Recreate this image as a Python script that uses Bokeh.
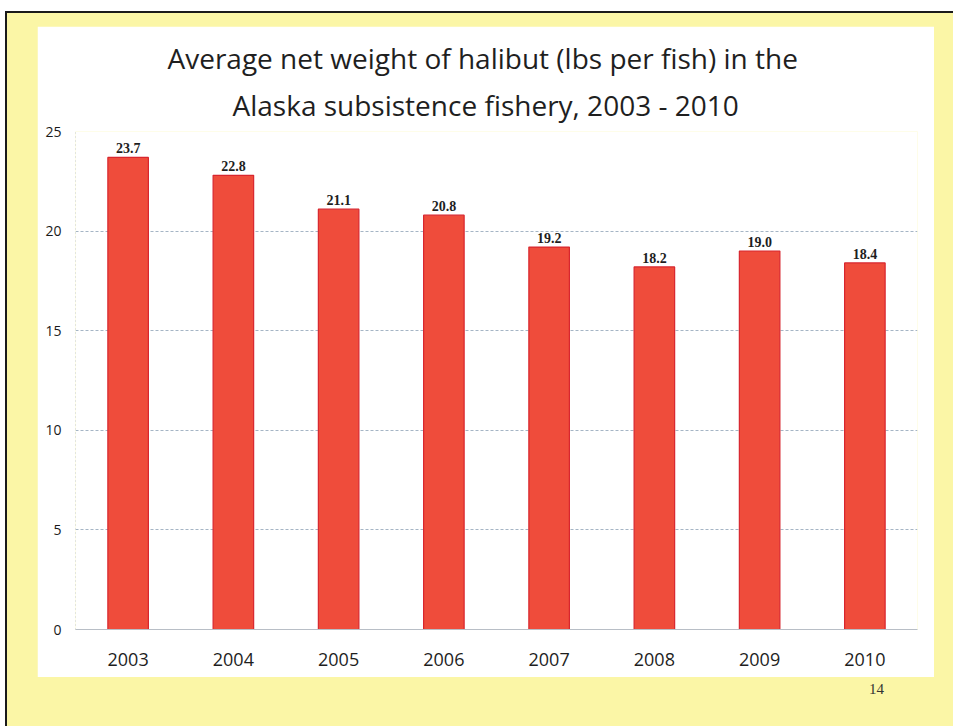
from bokeh.plotting import figure
from bokeh.models import Range1d, Div, FixedTicker, Title
from bokeh.layouts import column
from bokeh.core.properties import value
from bokeh.embed import file_html
from bokeh.resources import INLINE

# Average net weight of halibut (lbs per fish), Alaska subsistence fishery
years = ["2003", "2004", "2005", "2006", "2007", "2008", "2009", "2010"]
weights = [23.7, 22.8, 21.1, 20.8, 19.2, 18.2, 19.0, 18.4]
weight_labels = ["23.7", "22.8", "21.1", "20.8", "19.2", "18.2", "19.0", "18.4"]
y_ticks = [0, 5, 10, 15, 20, 25]

title_lines = ["Average net weight of halibut (lbs per fish) in the",
               "Alaska subsistence fishery, 2003 - 2010"]
title_indents = [92, 157]
page_number = "14"

YELLOW = "#fbf6a6"

p = figure(
    x_range=years,
    y_range=Range1d(0, 25),
    width=897, height=651,
    output_backend="svg",
    toolbar_location=None,
    min_border_left=38, min_border_right=17,
    min_border_top=105, min_border_bottom=48,
    background_fill_color="white",
    border_fill_color="white",
)
p.outline_line_color = None

# two-line title, the lower line added first so it sits next to the frame
for i, (line, indent) in enumerate(zip(reversed(title_lines), reversed(title_indents))):
    p.add_layout(Title(text=line, align="left", offset=indent,
                       text_font="Open Sans", text_font_size="28px",
                       text_font_style="normal", text_color="#1f1f1f",
                       standoff=15 if i == 0 else 0), "above")

p.vbar(x=years, top=weights, width=0.385,
       fill_color="#ef4c3b", line_color="#d8262e", line_width=1.2)

p.text(x=years, y=weights, text=weight_labels,
       y_offset=-9, text_align="center", text_baseline="alphabetic",
       text_font=value("Liberation Serif"), text_font_style="bold",
       text_font_size="14px", text_color="#1e1e1e")

# axes
p.yaxis.ticker = FixedTicker(ticks=y_ticks)
p.yaxis.major_tick_line_color = None
p.yaxis.minor_tick_line_color = None
p.yaxis.axis_line_color = "#c8ccd2"
p.yaxis.axis_line_dash = "1 3"
p.yaxis.major_label_text_font = "Open Sans"
p.yaxis.major_label_text_font_size = "14px"
p.yaxis.major_label_text_font_style = "normal"
p.yaxis.major_label_text_color = "#1a1a1a"
p.yaxis.major_label_standoff = 8

p.xaxis.major_tick_line_color = None
p.xaxis.axis_line_color = "#b8bec6"
p.xaxis.major_label_text_font = "Open Sans"
p.xaxis.major_label_text_font_size = "18px"
p.xaxis.major_label_text_color = "#1e1e1e"
p.xaxis.major_label_standoff = 17

p.xgrid.grid_line_color = None
p.ygrid.ticker = FixedTicker(ticks=y_ticks)
p.ygrid.grid_line_color = "#8fa2b6"
p.ygrid.grid_line_dash = "3 2"
p.ygrid.grid_line_alpha = 0.8

number = Div(
    text=page_number, width=40, height=24,
    styles={"font-family": "'Liberation Serif'", "font-size": "15px",
            "color": "#333333"},
)
number.margin = (2, 0, 0, 832)

slide = column(p, number, width=948, height=715,
               styles={"background-color": YELLOW,
                       "border-top": "2px solid #1a1a1a",
                       "border-left": "2px solid #1a1a1a",
                       "padding-left": "30px",
                       "padding-top": "13px",
                       "box-sizing": "border-box",
                       "gap": "0px"})

page = column(slide, width=954, height=727,
              styles={"background-color": "white",
                      "padding-left": "5px", "padding-top": "11px",
                      "box-sizing": "border-box"})

with open("out.html", "w") as f:
    f.write(file_html(page, INLINE))
